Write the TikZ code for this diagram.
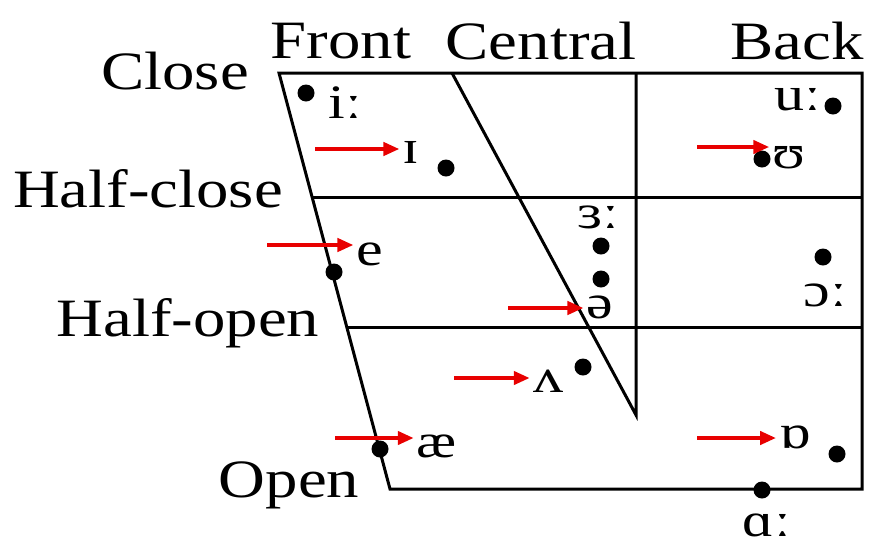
\documentclass[tikz,border=0pt]{standalone}
\usepackage{fontspec}
\setmainfont{Liberation Serif}
\usetikzlibrary{arrows.meta}
\definecolor{arrred}{RGB}{232,0,0}
\newcommand{\wide}[1]{\scalebox{1.2}[1]{#1}}
\newcommand{\wides}[1]{\scalebox{1.25}[1]{#1}}
\tikzset{
  frame/.style={line width=3pt, line join=miter},
  vdot/.style={circle, fill=black, inner sep=0pt, minimum size=17pt},
  axis/.style={inner sep=0pt, font=\fontsize{54}{60}\selectfont},
  sym/.style={inner sep=0pt, font=\fontsize{48}{54}\selectfont},
  redarrow/.style={draw=arrred, line width=4pt, -{Triangle[length=16pt,width=13pt]}, shorten >=3pt}
}
\begin{document}
\begin{tikzpicture}[x=1pt,y=-1pt]
\useasboundingbox (0,0) rectangle (869,539);
% frame
\coordinate (TL) at (279,73);
\coordinate (TR) at (862,73);
\coordinate (BR) at (862,489);
\coordinate (BL) at (390,489);
\coordinate (HCL) at (312.4,197);
\coordinate (HCR) at (862,197);
\coordinate (HOL) at (347.4,327);
\coordinate (HOR) at (862,327);
\coordinate (CT) at (452,73);
\coordinate (CB) at (636,415);
\coordinate (VT) at (636,73);
\draw[frame] (TL) -- (TR) -- (BR) -- (BL) -- cycle;
\draw[frame] (HCL) -- (HCR);
\draw[frame] (HOL) -- (HOR);
\draw[frame] (CT) -- (CB) -- (VT);
% axis labels
\node[axis] (front) at (341,41) {\wide{Front}};
\node[axis] (central) at (541,41) {\wide{Central}};
\node[axis] (back) at (797,41) {\wide{Back}};
\node[axis] (close) at (175,71) {\wide{Close}};
\node[axis] (hclose) at (148,189) {\wide{Half-close}};
\node[axis] (hopen) at (188,323) {\wide{Half-open}};
\node[axis] (open) at (289,485) {\wide{Open}};
% dots
\node[vdot] (d-i) at (306,93) {};
\node[vdot] (d-I) at (446,168) {};
\node[vdot] (d-u) at (833,106) {};
\node[vdot] (d-U) at (762,159) {};
\node[vdot] (d-er1) at (601,246) {};
\node[vdot] (d-er2) at (601,279) {};
\node[vdot] (d-e) at (334,272) {};
\node[vdot] (d-o) at (823,257) {};
\node[vdot] (d-v) at (583,367) {};
\node[vdot] (d-ae) at (380,449) {};
\node[vdot] (d-D) at (837,454) {};
\node[vdot] (d-a) at (762,490) {};
% symbols
\node[sym] (s-i) at (345,103) {\wides{iː}};
\node[sym] (s-I) at (411,152) {\wides{ɪ}};
\node[sym] (s-u) at (798,100) {\wides{uː}};
\node[sym] (s-U) at (789,158) {\wides{ʊ}};
\node[sym] (s-er) at (598,217) {\wides{ɜː}};
\node[sym] (s-schwa) at (600,307) {\wides{ə}};
\node[sym] (s-e) at (370,254) {\wides{e}};
\node[sym] (s-o) at (825,295) {\wides{ɔː}};
\node[sym] (s-v) at (548,381) {\wides{ʌ}};
\node[sym] (s-ae) at (437,446) {\wides{æ}};
\node[sym] (s-D) at (795,437) {\wides{ɒ}};
\node[sym] (s-a) at (767,525) {\wides{ɑː}};
% arrows
\coordinate (a-I) at (315,149);
\coordinate (a-U) at (697,147);
\coordinate (a-e) at (267,245);
\coordinate (a-schwa) at (508,308);
\coordinate (a-v) at (454,378);
\coordinate (a-ae) at (335,438);
\coordinate (a-D) at (697,438);
\draw[redarrow] (a-I) -- (a-I -| s-I.west);
\draw[redarrow] (a-U) -- (a-U -| s-U.west);
\draw[redarrow] (a-e) -- (a-e -| s-e.west);
\draw[redarrow] (a-schwa) -- (a-schwa -| s-schwa.west);
\draw[redarrow] (a-v) -- (a-v -| s-v.west);
\draw[redarrow] (a-ae) -- (a-ae -| s-ae.west);
\draw[redarrow] (a-D) -- (a-D -| s-D.west);
\end{tikzpicture}
\end{document}
